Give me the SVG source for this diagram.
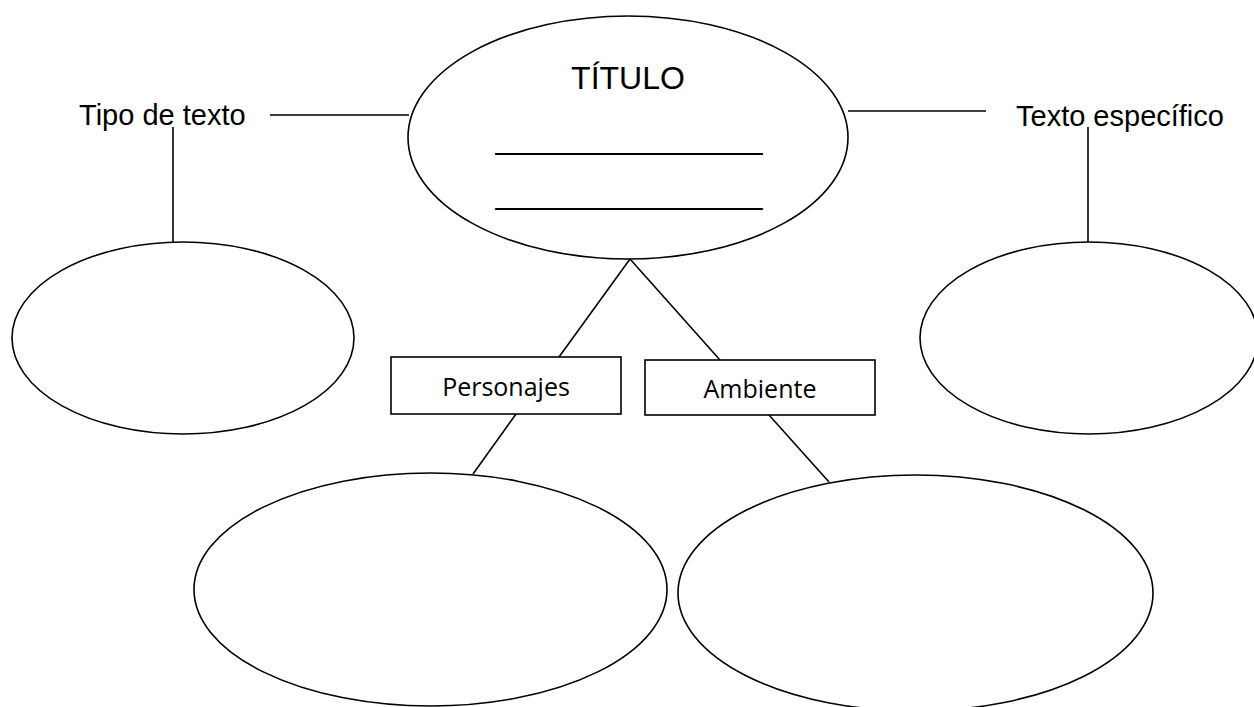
<svg xmlns="http://www.w3.org/2000/svg" width="1254" height="707" viewBox="0 0 1254 707">
<style>
.shape{fill:#fff;stroke:#000;stroke-width:1.6}
.conn line{stroke:#000;stroke-width:1.6}
.arial{font-family:"Liberation Sans",Arial,sans-serif;fill:#000}
.box{font-family:"Open Sans","Noto Sans",sans-serif;font-size:25px;fill:#000}
</style>
<rect width="1254" height="707" fill="#fff"/>
<g id="connectors" class="conn">
<line x1="270" y1="115" x2="409" y2="115"/>
<line x1="848" y1="111" x2="986" y2="111"/>
<line x1="173" y1="127" x2="173" y2="243"/>
<line x1="1088" y1="127" x2="1088" y2="243"/>
<line x1="630" y1="259" x2="559" y2="357"/>
<line x1="630" y1="259" x2="720" y2="360"/>
<line x1="516" y1="414" x2="473" y2="474"/>
<line x1="769" y1="415" x2="829" y2="482"/>
</g>
<g id="titulo">
<ellipse class="shape" cx="628" cy="137.5" rx="220" ry="121.5"/>
<text class="arial" x="628" y="89" font-size="32" text-anchor="middle">TÍTULO</text>
<text class="arial" x="629" y="149" font-size="32" text-anchor="middle">_______________</text>
<text class="arial" x="629" y="204" font-size="32" text-anchor="middle">_______________</text>
</g>
<g id="tipo-texto">
<text class="arial" x="79" y="125" font-size="29">Tipo de texto</text>
</g>
<g id="texto-especifico">
<text class="arial" x="1016" y="126" font-size="29">Texto específico</text>
</g>
<g id="ellipse-tipo">
<ellipse class="shape" cx="183" cy="338" rx="171" ry="96"/>
</g>
<g id="ellipse-especifico">
<ellipse class="shape" cx="1089" cy="338" rx="169" ry="96"/>
</g>
<g id="personajes">
<rect class="shape" x="391" y="357" width="230" height="57"/>
<text class="box" x="506" y="396" text-anchor="middle">Personajes</text>
</g>
<g id="ambiente">
<rect class="shape" x="645" y="360" width="230" height="55"/>
<text class="box" x="760" y="398" text-anchor="middle">Ambiente</text>
</g>
<g id="ellipse-personajes">
<ellipse class="shape" cx="430.5" cy="589.5" rx="236.5" ry="116.5"/>
</g>
<g id="ellipse-ambiente">
<ellipse class="shape" cx="915.5" cy="593" rx="237.5" ry="118"/>
</g>
</svg>
